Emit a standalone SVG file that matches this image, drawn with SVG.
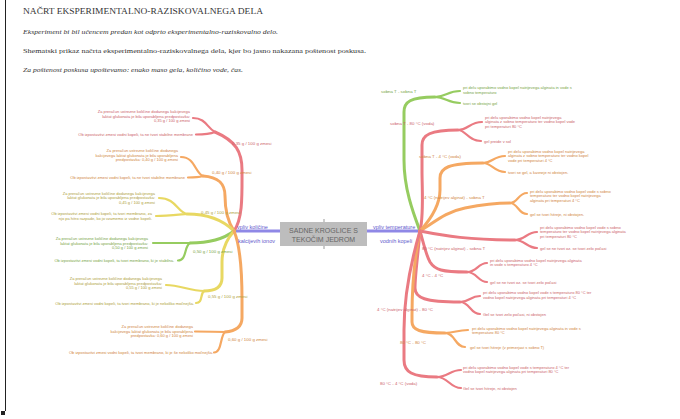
<svg xmlns="http://www.w3.org/2000/svg" width="680" height="419" viewBox="0 0 680 419">
<style>
.l{fill:none;stroke-linecap:round;stroke-width:3}
.s{fill:none;stroke-linecap:round;stroke-width:2.2}
.r{stroke:#ea7a82}.o{stroke:#f5a862}.y{stroke:#e8d862}.g{stroke:#96cc60}.p{stroke:#8f88e6}
.t{font-family:"Liberation Sans",Arial,sans-serif;font-size:4px}
.lb{font-family:"Liberation Sans",Arial,sans-serif;font-size:4.4px}
.e{text-anchor:end}
.tr{fill:#cc5f6a}.to{fill:#d08540}.ty{fill:#aea03a}.tg{fill:#78a545}.tp{fill:#5f59cc}
.h{font-family:"Liberation Serif","Times New Roman",serif;fill:#333}
</style>
<rect width="680" height="419" fill="#fff"/>
<line x1="5.5" y1="0" x2="5.5" y2="411" stroke="#222" stroke-width="1"/>
<rect x="1" y="411" width="4" height="4" fill="#222"/>

<g id="header">
<text class="h" x="23" y="14" font-size="7.5" textLength="240" lengthAdjust="spacingAndGlyphs">NAČRT EKSPERIMENTALNO-RAZISKOVALNEGA DELA</text>
<text class="h" x="23" y="33.5" font-size="6.3" font-style="italic" textLength="255" lengthAdjust="spacingAndGlyphs">Eksperiment bi bil učencem predan kot odprto eksperimentalno-raziskovalno delo.</text>
<text class="h" x="23" y="52.5" font-size="7" textLength="343" lengthAdjust="spacingAndGlyphs">Shematski prikaz načrta eksperimentalno-raziskovalnega dela, kjer bo jasno nakazana poštenost poskusa.</text>
<text class="h" x="23" y="71.5" font-size="6.3" font-style="italic" textLength="220" lengthAdjust="spacingAndGlyphs">Za poštenost poskusa upoštevamo: enako maso gela, količino vode, čas.</text>
</g>

<g id="connectors">
<line class="l p" x1="234" y1="231" x2="280" y2="231" stroke-width="3.2"/>
<line class="l p" x1="367" y1="231" x2="420" y2="231" stroke-width="3.2"/>
<path class="l r" d="M234,231 C243,218 242,195 242,170 C242,152 236,141 215,132"/>
<path class="s r" d="M215,132 C207,128 206,118 193,118"/>
<path class="s r" d="M215,132 C210,134 204,134.5 196,134.5"/>
<path class="l o" d="M234,231 C228,222 225,210 225,196 C225,183 218,177 203,176"/>
<path class="s o" d="M203,176 C195,173 195,157 181,157"/>
<path class="s o" d="M203,176 C198,177.5 194,177.5 188,177.5"/>
<path class="l y" d="M234,231 C225,222 210,214 187,214"/>
<path class="s y" d="M187,214 C177,212 176,198 159,198"/>
<path class="s y" d="M187,214 C175,215 165,216 156,216"/>
<path class="l g" d="M234,231 C225,238 210,243 190,243"/>
<path class="s g" d="M190,243 L153,243"/>
<path class="s g" d="M190,243 C184,246 187,260.5 178,260.5"/>
<path class="l y" d="M234,231 C226,240 222,250 222,262 L222,278 C222,287 215,291 204,291"/>
<path class="s y" d="M204,291 C190,291 180,285 166,285"/>
<path class="s y" d="M204,291 C200,294 203,303 196,303"/>
<path class="l o" d="M234,231 C240,245 242,270 242,300 L242,318 C242,326 236,331 225,332"/>
<path class="s o" d="M225,332 C215,331.5 205,331.5 195,331.5"/>
<path class="s o" d="M225,332 C220,336 222,352.5 214,352.5"/>
<path class="l g" d="M420,231 C414,215 404,190 404,160 L404,112 C404,102 410,97 435,97"/>
<path class="s g" d="M435,97 C445,97 448,91 460,91"/>
<path class="s g" d="M435,97 C445,97 448,103 460,103"/>
<path class="l r" d="M420,231 C424,215 422,190 422,170 L422,145 C422,135 430,130 458,130"/>
<path class="s r" d="M458,130 C468,130 470,122 482,122"/>
<path class="s r" d="M458,130 C466,130 468,141 481,141"/>
<path class="l o" d="M420,231 C430,220 440,205 440,190 L440,178 C440,168 448,163 483,163"/>
<path class="s o" d="M483,163 C492,163 494,156 505,156"/>
<path class="s o" d="M483,163 C492,163 494,172 505,172"/>
<path class="l o" d="M420,231 C435,222 445,212 465,208 C480,205 495,203 510,203"/>
<path class="s o" d="M510,203 C518,203 518,193 527,193"/>
<path class="s o" d="M510,203 C518,203 518,214 527,214"/>
<path class="l r" d="M420,231 C445,236 470,240 515,240"/>
<path class="s r" d="M515,240 C525,240 527,232 537,232"/>
<path class="s r" d="M515,240 C525,240 527,248 537,248"/>
<path class="l r" d="M420,231 C424,245 426,255 430,262 C435,270 442,272 467,272"/>
<path class="s r" d="M467,272 C477,272 478,263 487,263"/>
<path class="s r" d="M467,272 C477,272 478,282 487,282"/>
<path class="l r" d="M420,231 C418,255 415,275 415,288 C415,298 425,302 460,302"/>
<path class="s r" d="M460,302 C470,302 470,296 480,296"/>
<path class="s r" d="M460,302 C470,302 470,314 480,314"/>
<path class="l o" d="M420,231 C414,260 412,290 412,315 L412,322 C412,330 420,333 445,333"/>
<path class="s o" d="M445,333 C455,333 457,330 468,330"/>
<path class="s o" d="M445,333 C455,333 455,347 465,347"/>
<path class="l r" d="M420,231 C410,265 404,300 404,330 L404,360 C404,372 412,377 437,377"/>
<path class="s r" d="M437,377 C448,377 450,370 461,370"/>
<path class="s r" d="M437,377 C448,377 450,388 461,388"/>
</g>

<g id="center">
<line x1="324" y1="219" x2="324" y2="249" stroke="#999" stroke-width="1"/>
<rect x="280" y="222" width="87" height="24" fill="#bdbdbd"/>
<text x="323.5" y="233" font-family="Liberation Sans,Arial,sans-serif" font-size="7" fill="#666" text-anchor="middle">SADNE KROGLICE S</text>
<text x="323.5" y="242" font-family="Liberation Sans,Arial,sans-serif" font-size="7" fill="#666" text-anchor="middle">TEKOČIM JEDROM</text>
</g>

<g id="branch-labels" font-family="Liberation Sans,Arial,sans-serif" font-size="5.5">
<text class="tp" x="237" y="229">vpliv količine</text>
<text class="tp" x="238" y="243">kalcijevih ionov</text>
<text class="tp" x="373" y="229">vpliv temperature</text>
<text class="tp" x="380" y="243">vodnih kopeli</text>
</g>

<g id="n035">
<text class="lb tr" x="232" y="145">0,35 g / 100 g zmesi</text>
<text class="t tr e" x="190" y="113">Za preračun ustrezne količine dodanega kalcijevega</text>
<text class="t tr e" x="190" y="117.5">laktat glukonata je bila uporabljena predpostavka:</text>
<text class="t tr e" x="190" y="122">0,35 g / 100 g zmesi</text>
<text class="t tr e" x="193" y="136">Ob izpostavitvi zmesi vodni kopeli, ta ne tvori stabilne membrane</text>
</g>
<g id="n040">
<text class="lb to" x="212" y="173.5">0,40 g / 100 g zmesi</text>
<text class="t to e" x="178" y="152">Za preračun ustrezne količine dodanega</text>
<text class="t to e" x="178" y="156.5">kalcijevega laktat glukonata je bila uporabljena</text>
<text class="t to e" x="178" y="161">predpostavka: 0,40 g / 100 g zmesi</text>
<text class="t to e" x="185" y="179">Ob izpostavitvi zmesi vodni kopeli, ta ne tvori stabilne membrane</text>
</g>
<g id="n045">
<text class="lb ty" x="201" y="213.5">0,45 g / 100 g zmesi</text>
<text class="t ty e" x="155" y="194.5">Za preračun ustrezne količine dodanega kalcijevega</text>
<text class="t ty e" x="155" y="199">laktat glukonata je bila uporabljena predpostavka:</text>
<text class="t ty e" x="155" y="203.5">0,45 g / 100 g zmesi</text>
<text class="t ty e" x="152" y="215">Ob izpostavitvi zmesi vodni kopeli, ta tvori membrano, za</text>
<text class="t ty e" x="152" y="219.5">njo pa hitro razpade, ko jo vzamemo iz vodne kopeli.</text>
</g>
<g id="n050">
<text class="lb tg" x="193" y="253">0,50 g / 100 g zmesi</text>
<text class="t tg e" x="148" y="240">Za preračun ustrezne količine dodanega kalcijevega</text>
<text class="t tg e" x="148" y="244.5">laktat glukonata je bila uporabljena predpostavka:</text>
<text class="t tg e" x="148" y="249">0,50 g / 100 g zmesi</text>
<text class="t tg e" x="174" y="262">Ob izpostavitvi zmesi vodni kopeli, ta tvori membrano, ki je stabilna.</text>
</g>
<g id="n055">
<text class="lb ty" x="208" y="298">0,55 g / 100 g zmesi</text>
<text class="t ty e" x="162" y="280">Za preračun ustrezne količine dodanega kalcijevega</text>
<text class="t ty e" x="162" y="284.5">laktat glukonata je bila uporabljena predpostavka:</text>
<text class="t ty e" x="162" y="289">0,55 g / 100 g zmesi</text>
<text class="t ty e" x="194" y="304.5">Ob izpostavitvi zmesi vodni kopeli, ta tvori membrano, ki je nekoliko močnejša.</text>
</g>
<g id="n060">
<text class="lb to" x="228" y="341">0,60 g / 100 g zmesi</text>
<text class="t to e" x="193" y="328">Za preračun ustrezne količine dodanega</text>
<text class="t to e" x="193" y="332.5">kalcijevega laktat glukonata je bila uporabljena</text>
<text class="t to e" x="193" y="337">predpostavka: 0,60 g / 100 g zmesi</text>
<text class="t to e" x="213" y="354">Ob izpostavitvi zmesi vodni kopeli, ta tvori membrano, ki je še nekoliko močnejša.</text>
</g>

<g id="rT1">
<text class="lb tg" x="381" y="93">sobna T - sobna T</text>
<text class="t tg" x="463" y="89">pri delu uporabimo vodno kopel natrijevega alginata in vode s</text>
<text class="t tg" x="463" y="93.5">sobno temperaturo</text>
<text class="t tg" x="463" y="104.5">tvori se obstojni gel</text>
</g>
<g id="rT2">
<text class="lb tr" x="390" y="124.5">sobna T - 80 °C (voda)</text>
<text class="t tr" x="485" y="118.5">pri delu uporabimo vodno kopel natrijevega</text>
<text class="t tr" x="485" y="123">alginata z sobno temperaturo ter vodno kopel vode</text>
<text class="t tr" x="485" y="127.5">pri temperaturi 80 °C</text>
<text class="t tr" x="484" y="142.5">gel preide v sol</text>
</g>
<g id="rT3">
<text class="lb to" x="419" y="158">sobna T - 4 °C (voda)</text>
<text class="t to" x="508" y="152.5">pri delu uporabimo vodno kopel natrijevega</text>
<text class="t to" x="508" y="157">alginata z sobno temperaturo ter vodno kopel</text>
<text class="t to" x="508" y="161.5">vode pri temperaturi 4 °C</text>
<text class="t to" x="508" y="173.5">tvori se gel, a kasneje ni obstojen.</text>
</g>
<g id="rT4">
<text class="lb to" x="424" y="199">4 °C (natrijev alginat) - sobna T</text>
<text class="t to" x="530" y="192.5">pri delu uporabimo vodno kopel vode s sobno</text>
<text class="t to" x="530" y="197">temperaturo ter vodno kopel natrijevega</text>
<text class="t to" x="530" y="201.5">alginata pri temperaturi 4 °C</text>
<text class="t to" x="530" y="215.5">gel se tvori hitreje, ni obstojen.</text>
</g>
<g id="rT5">
<text class="lb tr" x="422" y="249.5">80 °C (natrijev alginat) - sobna T</text>
<text class="t tr" x="540" y="228.5">pri delu uporabimo vodno kopel vode s sobno</text>
<text class="t tr" x="540" y="233">temperaturo ter vodno kopel natrijevega alginata</text>
<text class="t tr" x="540" y="237.5">pri temperaturi 80 °C</text>
<text class="t tr" x="540" y="249.5">gel se ne tvori oz. se tvori zelo počasi</text>
</g>
<g id="rT6">
<text class="lb tr" x="422" y="277">4 °C - 4 °C</text>
<text class="t tr" x="490" y="261.5">pri delu uporabimo vodno kopel natrijevega alginata</text>
<text class="t tr" x="490" y="266">in vode s temperaturo 4 °C</text>
<text class="t tr" x="490" y="283.5">gel se ne tvori oz. se tvori zelo počasi</text>
</g>
<g id="rT7">
<text class="lb tr" x="377" y="310.5">4 °C (natrijev alginat) - 80 °C</text>
<text class="t tr" x="483" y="294">pri delu uporabimo vodno kopel vode s temperaturo 80 °C ter</text>
<text class="t tr" x="483" y="298.5">vodno kopel natrijevega alginata pri temperaturi 4 °C</text>
<text class="t tr" x="483" y="315.5">Gel se tvori zelo počasi, ni obstojen</text>
</g>
<g id="rT8">
<text class="lb to" x="400" y="343.5">80 °C - 80 °C</text>
<text class="t to" x="472" y="329.5">pri delu uporabimo vodno kopel natrijevega alginata in vode s</text>
<text class="t to" x="472" y="334">temperaturo 80 °C</text>
<text class="t to" x="470" y="348.5">gel se tvori hitreje (v primerjavi s sobno T)</text>
</g>
<g id="rT9">
<text class="lb tr" x="380" y="384.5">80 °C - 4 °C (voda)</text>
<text class="t tr" x="463" y="368.5">pri delu uporabimo vodno kopel vode s temperaturo 4 °C ter</text>
<text class="t tr" x="463" y="373">vodno kopel natrijevega alginata pri temperaturi 80 °C</text>
<text class="t tr" x="463" y="389.5">Gel se tvori hitreje, ni obstojen</text>
</g>
</svg>
